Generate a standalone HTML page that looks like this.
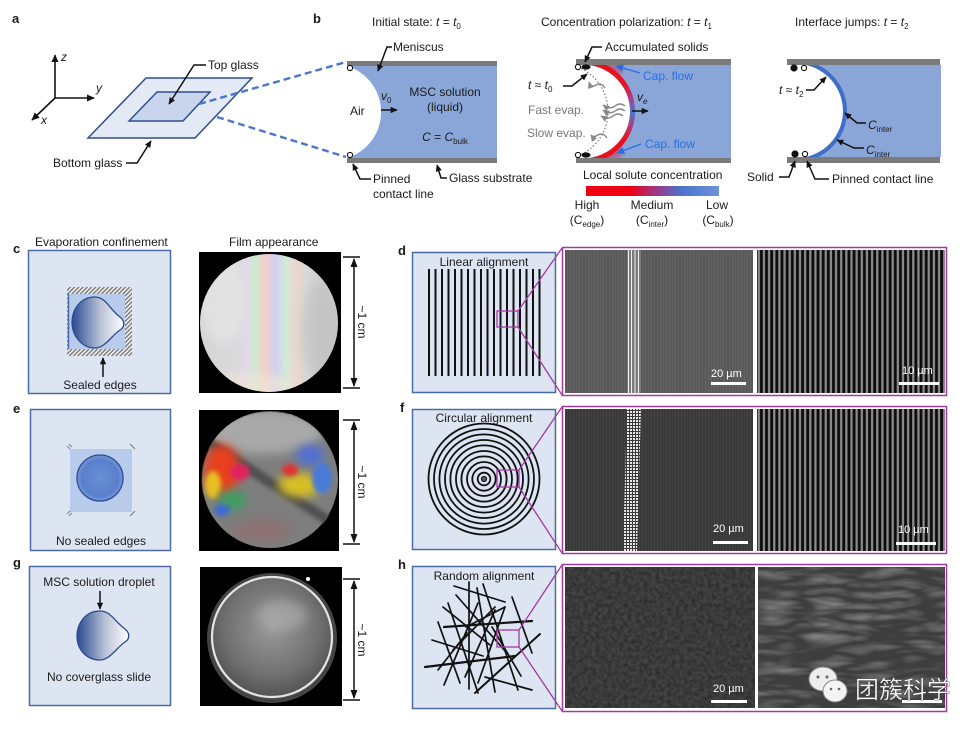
<!DOCTYPE html>
<html><head><meta charset="utf-8"><style>
html,body{margin:0;padding:0;background:#fff;}
svg{display:block;}
text{font-family:"Liberation Sans",Arial,sans-serif;fill:#1a1a1a;}
.l{font-weight:bold;font-size:13px;}
.t{font-size:12px;}
.s{font-size:11px;fill:#fff;}
</style></head><body>
<svg width="980" height="731" viewBox="0 0 980 731" xmlns="http://www.w3.org/2000/svg">
<defs>
<marker id="ah" viewBox="0 0 10 10" refX="9" refY="5" markerWidth="8" markerHeight="8" markerUnits="userSpaceOnUse" orient="auto"><path d="M0,0.5 L10,5 L0,9.5 Z" fill="#111"/></marker>
<marker id="ahb" viewBox="0 0 10 10" refX="9" refY="5" markerWidth="8" markerHeight="8" markerUnits="userSpaceOnUse" orient="auto"><path d="M0,0.5 L10,5 L0,9.5 Z" fill="#2a6fe0"/></marker>
<marker id="ahg" viewBox="0 0 10 10" refX="9" refY="5" markerWidth="7" markerHeight="7" markerUnits="userSpaceOnUse" orient="auto"><path d="M0,0.5 L10,5 L0,9.5 Z" fill="#888"/></marker>
<marker id="ahs" viewBox="0 0 10 10" refX="9" refY="5" markerWidth="7" markerHeight="7" markerUnits="userSpaceOnUse" orient="auto"><path d="M0,0.5 L10,5 L0,9.5 Z" fill="#111"/></marker>
<linearGradient id="cbar" x1="0" x2="1" y1="0" y2="0">
<stop offset="0" stop-color="#f00010"/><stop offset="0.33" stop-color="#f00010"/><stop offset="0.5" stop-color="#a8307a"/><stop offset="0.72" stop-color="#4a74cc"/><stop offset="1" stop-color="#6d93de"/></linearGradient>
<linearGradient id="band" gradientUnits="userSpaceOnUse" x1="0" y1="65" x2="0" y2="158">
<stop offset="0" stop-color="#e8101c"/><stop offset="0.2" stop-color="#e8101c"/><stop offset="0.36" stop-color="#a8408a"/><stop offset="0.5" stop-color="#4a78cf"/><stop offset="0.64" stop-color="#a8408a"/><stop offset="0.8" stop-color="#e8101c"/><stop offset="1" stop-color="#e8101c"/></linearGradient>
<linearGradient id="drop" x1="0" x2="1" y1="0" y2="0"><stop offset="0" stop-color="#2b4a92"/><stop offset="0.55" stop-color="#b9c2d6"/><stop offset="1" stop-color="#ffffff"/></linearGradient>
<radialGradient id="edrop" cx="0.5" cy="0.5" r="0.5"><stop offset="0" stop-color="#6a8fd6"/><stop offset="0.8" stop-color="#5a7fcc"/><stop offset="1" stop-color="#7898d8"/></radialGradient>
<linearGradient id="rain" x1="0" x2="1" y1="0" y2="0">
<stop offset="0" stop-color="#d4d4d4"/><stop offset="0.25" stop-color="#dadada"/><stop offset="0.33" stop-color="#e3d8ea"/><stop offset="0.40" stop-color="#cfe9d0"/><stop offset="0.47" stop-color="#f2cfc9"/><stop offset="0.55" stop-color="#d2d0f2"/><stop offset="0.62" stop-color="#cfead8"/><stop offset="0.69" stop-color="#ecd6cf"/><stop offset="0.78" stop-color="#d8d8d8"/><stop offset="1" stop-color="#c8c8c8"/></linearGradient>
<radialGradient id="gph" cx="0.5" cy="0.42" r="0.55"><stop offset="0" stop-color="#9a9a9a"/><stop offset="0.7" stop-color="#707070"/><stop offset="1" stop-color="#555"/></radialGradient>
<pattern id="hatch" patternUnits="userSpaceOnUse" width="3" height="3" patternTransform="rotate(45)"><rect width="3" height="3" fill="#f2f2f2"/><rect width="1.4" height="3" fill="#777"/></pattern>
<pattern id="stripe" patternUnits="userSpaceOnUse" width="5.15" height="10"><rect width="5.15" height="10" fill="#0c0c0c"/><rect x="0.6" width="2.3" height="10" fill="#8a8a8a"/></pattern>
<pattern id="fine" patternUnits="userSpaceOnUse" width="3" height="10"><rect width="3" height="10" fill="#5a5a5a"/><rect width="1" height="10" fill="#626262"/></pattern>
<pattern id="fine2" patternUnits="userSpaceOnUse" width="3" height="10"><rect width="3" height="10" fill="#3a3a3a"/><rect width="1" height="10" fill="#424242"/></pattern>
<pattern id="dash" patternUnits="userSpaceOnUse" width="3" height="3"><rect width="3" height="3" fill="#3a3a3a"/><rect width="2" height="2" fill="#e8e8e8"/></pattern>
<filter id="bl" x="-50%" y="-50%" width="200%" height="200%"><feGaussianBlur stdDeviation="5"/></filter>
<filter id="bl2" x="-50%" y="-50%" width="200%" height="200%"><feGaussianBlur stdDeviation="2.5"/></filter>
<filter id="noise" x="0" y="0" width="100%" height="100%" color-interpolation-filters="sRGB"><feTurbulence type="fractalNoise" baseFrequency="0.25" numOctaves="2" seed="3"/><feColorMatrix type="matrix" values="0 0 0 0 0.15  0 0 0 0 0.15  0 0 0 0 0.15  0 0 0 -1.8 1.3"/></filter>
<filter id="noise2" x="0" y="0" width="100%" height="100%" color-interpolation-filters="sRGB"><feTurbulence type="turbulence" baseFrequency="0.02 0.09" numOctaves="2" seed="7"/><feColorMatrix type="matrix" values="0 0 0 0 0.62  0 0 0 0 0.62  0 0 0 0 0.62  0 0 0 1.6 -0.25"/></filter>
<clipPath id="cpm"><path clip-rule="evenodd" d="M578,65 H731 V158 H578 Z M578,65 A46.8,46.8 0 1 1 578,158 Z"/></clipPath>
<clipPath id="cpr"><path clip-rule="evenodd" d="M806,65 H941 V157 H806 Z M806,65 A47.1,47.1 0 0 1 806,157 Z"/></clipPath>
<clipPath id="cc"><circle cx="269" cy="323" r="69"/></clipPath>
<clipPath id="ce"><circle cx="270" cy="480" r="69"/></clipPath>
</defs>

<!-- ===== Panel a ===== -->
<text class="l" x="12" y="23">a</text>
<g stroke="#111" stroke-width="1.6" fill="none">
<line x1="55" y1="98" x2="55" y2="55" marker-end="url(#ah)"/>
<line x1="55" y1="98" x2="94" y2="98" marker-end="url(#ah)"/>
<line x1="55" y1="98" x2="32" y2="120" marker-end="url(#ah)"/>
</g>
<text class="t" x="61" y="61" font-style="italic">z</text>
<text class="t" x="96" y="92" font-style="italic">y</text>
<text class="t" x="41" y="124" font-style="italic">x</text>
<polygon points="88,138 146,78 252,78 195,138" fill="#e3e9f5" stroke="#2f4f8f" stroke-width="1.5"/>
<polygon points="129,121 157,92 210,92 183,121" fill="#c9d5ec" stroke="#2f4f8f" stroke-width="1.5"/>
<g stroke="#4a78c8" stroke-width="2.4" stroke-dasharray="7,4" fill="none">
<line x1="199" y1="104" x2="346" y2="62"/>
<line x1="217" y1="117" x2="346" y2="157"/>
</g>
<polyline points="206,65 194,65 169,104" fill="none" stroke="#111" stroke-width="1.5" marker-end="url(#ahs)"/>
<text class="t" x="208" y="69">Top glass</text>
<polyline points="126,163 137,163 151,141" fill="none" stroke="#111" stroke-width="1.5" marker-end="url(#ahs)"/>
<text class="t" x="53" y="167">Bottom glass</text>

<!-- ===== Panel b: initial ===== -->
<text class="l" x="313" y="23">b</text>
<text class="t" x="372" y="26">Initial state: <tspan font-style="italic">t</tspan> = <tspan font-style="italic">t</tspan><tspan font-size="8" dy="3">0</tspan></text>
<path d="M347,66 H497 V158 H347 A48.1,48.1 0 0 0 347,66 Z" fill="#8aa6d9"/>
<rect x="347" y="61" width="150" height="5" fill="#7b7b7b"/>
<rect x="347" y="158" width="150" height="5" fill="#7b7b7b"/>
<circle cx="350" cy="68" r="2.6" fill="#fff" stroke="#111" stroke-width="1.1"/>
<circle cx="350" cy="155" r="2.6" fill="#fff" stroke="#111" stroke-width="1.1"/>
<polyline points="392,47 387,47 378,71" fill="none" stroke="#111" stroke-width="1.5" marker-end="url(#ahs)"/>
<text class="t" x="393" y="51">Meniscus</text>
<text class="t" x="350" y="115">Air</text>
<text class="t" x="381" y="100" font-style="italic">v<tspan font-size="8" dy="3" font-style="normal">0</tspan></text>
<line x1="381" y1="110" x2="397" y2="110" stroke="#111" stroke-width="1.5" marker-end="url(#ahs)"/>
<text class="t" x="445" y="96" text-anchor="middle">MSC solution</text>
<text class="t" x="445" y="111" text-anchor="middle">(liquid)</text>
<text class="t" x="445" y="141" text-anchor="middle"><tspan font-style="italic">C</tspan> = <tspan font-style="italic">C</tspan><tspan font-size="8" dy="3">bulk</tspan></text>
<polyline points="371,179 360,179 353,164" fill="none" stroke="#111" stroke-width="1.5" marker-end="url(#ahs)"/>
<text class="t" x="373" y="183">Pinned</text>
<text class="t" x="373" y="198">contact line</text>
<polyline points="447,178 441,178 437,165" fill="none" stroke="#111" stroke-width="1.5" marker-end="url(#ahs)"/>
<text class="t" x="449" y="182">Glass substrate</text>

<!-- ===== Panel b: polarization ===== -->
<text class="t" x="541" y="26">Concentration polarization:  <tspan font-style="italic">t</tspan> = <tspan font-style="italic">t</tspan><tspan font-size="8" dy="3">1</tspan></text>
<rect x="578" y="65" width="153" height="93" fill="#8aa6d9"/>
<path d="M578,65 A46.8,46.8 0 1 1 578,158 Z" fill="#fff"/>
<g clip-path="url(#cpm)">
<path d="M585,61 Q605,63 622,72" fill="none" stroke="#e8101c" stroke-width="8" opacity="0.45" filter="url(#bl2)"/>
<path d="M585,162 Q605,160 622,151" fill="none" stroke="#e8101c" stroke-width="8" opacity="0.45" filter="url(#bl2)"/>
<path d="M578,65 A46.8,46.8 0 1 1 578,158" fill="none" stroke="url(#band)" stroke-width="10"/>
</g>
<rect x="576" y="59" width="155" height="6" fill="#7b7b7b"/>
<rect x="576" y="158" width="155" height="5" fill="#7b7b7b"/>
<path d="M578,67 A48,48 0 0 1 578,156" fill="none" stroke="#777" stroke-width="1.2" stroke-dasharray="1.5,2"/>
<ellipse cx="586" cy="67" rx="4.5" ry="2.6" fill="#111"/>
<ellipse cx="586" cy="155" rx="4.5" ry="2.6" fill="#111"/>
<circle cx="578" cy="67" r="2.6" fill="#fff" stroke="#111" stroke-width="1.1"/>
<circle cx="578" cy="155" r="2.6" fill="#fff" stroke="#111" stroke-width="1.1"/>
<polyline points="602,47 592,47 585,62" fill="none" stroke="#111" stroke-width="1.5" marker-end="url(#ahs)"/>
<text class="t" x="605" y="51">Accumulated solids</text>
<text class="t" x="528" y="89"><tspan font-style="italic">t</tspan> ≈ <tspan font-style="italic">t</tspan><tspan font-size="8" dy="3">0</tspan></text>
<polyline points="563,86 572,86 587,74" fill="none" stroke="#111" stroke-width="1.5" marker-end="url(#ahs)"/>
<g fill="none" stroke="#888" stroke-width="1.4">
<path d="M605,88 q-4,-6 -9,-3 t-7,-3" marker-end="url(#ahg)"/>
<path d="M625,106 q-5,-4 -10,0 t-12,-1" marker-end="url(#ahg)"/>
<path d="M625,111 q-5,-4 -10,0 t-12,-1" marker-end="url(#ahg)"/>
<path d="M623,116 q-5,-4 -10,0 t-12,0" marker-end="url(#ahg)"/>
<path d="M607,138 q-4,-6 -9,-3 t-7,0" marker-end="url(#ahg)"/>
</g>
<text class="t" x="528" y="114" style="fill:#777">Fast evap.</text>
<text class="t" x="527" y="137" style="fill:#777">Slow evap.</text>
<text class="t" x="637" y="101" font-style="italic">v<tspan font-size="8" dy="3">e</tspan></text>
<line x1="632" y1="111" x2="648" y2="111" stroke="#111" stroke-width="1.5" marker-end="url(#ahs)"/>
<line x1="640" y1="73" x2="616" y2="66" stroke="#2a6fe0" stroke-width="1.4" marker-end="url(#ahb)"/>
<line x1="641" y1="144" x2="617" y2="153" stroke="#2a6fe0" stroke-width="1.4" marker-end="url(#ahb)"/>
<text class="t" x="643" y="80" style="fill:#2a6fe0">Cap. flow</text>
<text class="t" x="645" y="148" style="fill:#2a6fe0">Cap. flow</text>
<text class="t" x="583" y="179">Local solute concentration</text>
<rect x="586" y="186" width="133" height="10" fill="url(#cbar)"/>
<text class="t" x="587" y="209" text-anchor="middle">High</text>
<text class="t" x="587" y="224" text-anchor="middle">(C<tspan font-size="8" dy="3">edge</tspan><tspan dy="-3">)</tspan></text>
<text class="t" x="652" y="209" text-anchor="middle">Medium</text>
<text class="t" x="652" y="224" text-anchor="middle">(C<tspan font-size="8" dy="3">inter</tspan><tspan dy="-3">)</tspan></text>
<text class="t" x="717" y="209" text-anchor="middle">Low</text>
<text class="t" x="718" y="224" text-anchor="middle">(C<tspan font-size="8" dy="3">bulk</tspan><tspan dy="-3">)</tspan></text>

<!-- ===== Panel b: interface jumps ===== -->
<text class="t" x="795" y="26">Interface jumps: <tspan font-style="italic">t</tspan> = <tspan font-style="italic">t</tspan><tspan font-size="8" dy="3">2</tspan></text>
<path d="M806,65 H941 V157 H806 A47.1,47.1 0 0 0 806,65 Z" fill="#8aa6d9"/>
<g clip-path="url(#cpr)"><path d="M806,65 A47.1,47.1 0 0 1 806,157" fill="none" stroke="#3f6fc8" stroke-width="8"/></g>
<rect x="787" y="59" width="153" height="6" fill="#7b7b7b"/>
<rect x="787" y="157" width="153" height="6" fill="#7b7b7b"/>
<circle cx="794" cy="68" r="3.6" fill="#111"/>
<circle cx="804" cy="68" r="2.6" fill="#fff" stroke="#111" stroke-width="1.1"/>
<circle cx="795" cy="154" r="3.6" fill="#111"/>
<circle cx="805" cy="154" r="2.6" fill="#fff" stroke="#111" stroke-width="1.1"/>
<text class="t" x="779" y="94"><tspan font-style="italic">t</tspan> ≈ <tspan font-style="italic">t</tspan><tspan font-size="8" dy="3">2</tspan></text>
<polyline points="806,90 814,90 826,77" fill="none" stroke="#111" stroke-width="1.5" marker-end="url(#ahs)"/>
<polyline points="866,123 857,123 845,113" fill="none" stroke="#111" stroke-width="1.5" marker-end="url(#ahs)"/>
<text class="t" x="868" y="129"><tspan font-style="italic">C</tspan><tspan font-size="8" dy="3">inter</tspan></text>
<polyline points="864,148 854,148 837,140" fill="none" stroke="#111" stroke-width="1.5" marker-end="url(#ahs)"/>
<text class="t" x="866" y="154"><tspan font-style="italic">C</tspan><tspan font-size="8" dy="3">inter</tspan></text>
<polyline points="779,177 789,177 795,161" fill="none" stroke="#111" stroke-width="1.5" marker-end="url(#ahs)"/>
<text class="t" x="747" y="181">Solid</text>
<polyline points="829,179 815,179 807,161" fill="none" stroke="#111" stroke-width="1.5" marker-end="url(#ahs)"/>
<text class="t" x="832" y="183">Pinned contact line</text>

<!-- ===== Column headers ===== -->
<text class="t" x="35" y="246">Evaporation confinement</text>
<text class="t" x="229" y="246">Film appearance</text>

<!-- ===== Panel c ===== -->
<text class="l" x="13" y="253">c</text>
<rect x="28.5" y="250.5" width="142" height="143" fill="#dde5f3" stroke="#4c6aa5" stroke-width="1.5"/>
<rect x="67" y="287" width="65" height="69" fill="url(#hatch)"/>
<rect x="68" y="294" width="57" height="55" fill="#b8cbea"/>
<line x1="68.5" y1="294" x2="68.5" y2="349" stroke="#4c6aa5" stroke-width="1.5"/>
<path d="M95,297 C80,297 72,310 72,322 C72,336 82,348 95,348 C105,348 111,336 120,330 C125,327 125,321 120,317 C110,310 106,297 95,297 Z" fill="url(#drop)" stroke="#2b4a92" stroke-width="1.3"/>
<line x1="103" y1="377" x2="103" y2="358" stroke="#111" stroke-width="1.5" marker-end="url(#ahs)"/>
<text class="t" x="100" y="389" text-anchor="middle">Sealed edges</text>
<rect x="199" y="252" width="142" height="141" fill="#000"/>
<circle cx="269" cy="323" r="69" fill="url(#rain)"/>
<g clip-path="url(#cc)">
<ellipse cx="222" cy="300" rx="22" ry="45" fill="#e8e8e8" opacity="0.6" filter="url(#bl)"/>
<ellipse cx="320" cy="330" rx="18" ry="50" fill="#bdbdbd" opacity="0.6" filter="url(#bl)"/>
<ellipse cx="255" cy="385" rx="40" ry="12" fill="#efe4d6" opacity="0.7" filter="url(#bl)"/>
</g>
<g stroke="#111" stroke-width="1.5">
<line x1="343" y1="257" x2="360" y2="257"/><line x1="343" y1="388" x2="360" y2="388"/>
<line x1="354" y1="259" x2="354" y2="386"/>
</g>
<path d="M354,258 l-3.5,9 h7 Z M354,387 l-3.5,-9 h7 Z" fill="#111"/>
<text class="t" x="362" y="322" transform="rotate(90 362 322)" text-anchor="middle" dy="4">~1 cm</text>

<!-- ===== Panel e ===== -->
<text class="l" x="13" y="413">e</text>
<rect x="30.5" y="409.5" width="140" height="141" fill="#dde5f3" stroke="#4c6aa5" stroke-width="1.5"/>
<rect x="70" y="449" width="62" height="63" fill="#b8cbea"/>
<circle cx="100" cy="478" r="23" fill="url(#edrop)" stroke="#2b4a92" stroke-width="1.3"/>
<g stroke="#777" stroke-width="0.9">
<path d="M67,446 l3,3 M69,444 l3,3"/><path d="M130,444 l3,3 M132,446 l3,3"/>
<path d="M67,514 l3,-3 M69,516 l3,-3"/><path d="M130,516 l3,-3 M132,514 l3,-3"/>
</g>
<text class="t" x="101" y="545" text-anchor="middle">No sealed edges</text>
<rect x="199" y="410" width="140" height="141" fill="#000"/>
<circle cx="270" cy="480" r="68" fill="#7e7e7e"/>
<g clip-path="url(#ce)">
<ellipse cx="262" cy="432" rx="60" ry="22" fill="#a9a9a9" filter="url(#bl)"/>
<path d="M205,440 L335,525" stroke="#4f4f4f" stroke-width="10" filter="url(#bl2)"/>
<ellipse cx="222" cy="470" rx="18" ry="26" fill="#e8401c" filter="url(#bl)"/>
<ellipse cx="213" cy="485" rx="8" ry="14" fill="#e8c020" filter="url(#bl2)"/>
<ellipse cx="240" cy="472" rx="10" ry="8" fill="#e02060" filter="url(#bl2)"/>
<ellipse cx="232" cy="500" rx="14" ry="10" fill="#3aa060" filter="url(#bl)"/>
<ellipse cx="222" cy="510" rx="8" ry="6" fill="#3e6ad0" filter="url(#bl2)"/>
<ellipse cx="300" cy="485" rx="22" ry="12" fill="#d8c020" filter="url(#bl)"/>
<ellipse cx="310" cy="455" rx="14" ry="10" fill="#5070d8" filter="url(#bl)"/>
<ellipse cx="322" cy="478" rx="10" ry="16" fill="#4a7ad8" filter="url(#bl2)"/>
<ellipse cx="290" cy="470" rx="8" ry="6" fill="#e03030" filter="url(#bl2)"/>
<ellipse cx="262" cy="530" rx="30" ry="10" fill="#9a6a6a" opacity="0.6" filter="url(#bl)"/>
<path d="M290,412 Q315,418 325,432" stroke="#e8e8e8" stroke-width="5" fill="none"/>
</g>
<g stroke="#111" stroke-width="1.5">
<line x1="343" y1="420" x2="360" y2="420"/><line x1="343" y1="544" x2="360" y2="544"/>
<line x1="354" y1="422" x2="354" y2="542"/>
</g>
<path d="M354,421 l-3.5,9 h7 Z M354,543 l-3.5,-9 h7 Z" fill="#111"/>
<text class="t" x="362" y="482" transform="rotate(90 362 482)" text-anchor="middle" dy="4">~1 cm</text>

<!-- ===== Panel g ===== -->
<text class="l" x="13" y="567" font-family="Liberation Serif">g</text>
<rect x="29.5" y="566.5" width="141" height="139" fill="#dde5f3" stroke="#4c6aa5" stroke-width="1.5"/>
<text class="t" x="99" y="586" text-anchor="middle">MSC solution droplet</text>
<line x1="100" y1="591" x2="100" y2="609" stroke="#111" stroke-width="1.5" marker-end="url(#ahs)"/>
<path d="M100,611 C85,611 77,624 77,636 C77,650 87,660 100,660 C110,660 116,648 125,642 C130,639 130,633 125,629 C115,622 111,611 100,611 Z" fill="url(#drop)" stroke="#2b4a92" stroke-width="1.3"/>
<text class="t" x="99" y="681" text-anchor="middle">No coverglass slide</text>
<rect x="200" y="567" width="142" height="139" fill="#000"/>
<circle cx="272" cy="638" r="65" fill="#444"/>
<circle cx="272" cy="638" r="61" fill="url(#gph)"/>
<circle cx="272" cy="637" r="60" fill="none" stroke="#e4e4e4" stroke-width="2.2"/>
<ellipse cx="282" cy="615" rx="25" ry="15" fill="#b8b8b8" opacity="0.5" filter="url(#bl)"/>
<circle cx="308" cy="579" r="2" fill="#fff"/>
<g stroke="#111" stroke-width="1.5">
<line x1="343" y1="579" x2="360" y2="579"/><line x1="343" y1="700" x2="360" y2="700"/>
<line x1="354" y1="581" x2="354" y2="698"/>
</g>
<path d="M354,580 l-3.5,9 h7 Z M354,699 l-3.5,-9 h7 Z" fill="#111"/>
<text class="t" x="362" y="640" transform="rotate(90 362 640)" text-anchor="middle" dy="4">~1 cm</text>

<!-- ===== Panel d ===== -->
<text class="l" x="398" y="255">d</text>
<rect x="412.5" y="252.5" width="143" height="140" fill="#dde5f3" stroke="#4c6aa5" stroke-width="1.5"/>
<text class="t" x="484" y="266" text-anchor="middle">Linear alignment</text>
<g stroke="#111" stroke-width="2">
<line x1="429" y1="269" x2="429" y2="376"/><line x1="435.5" y1="269" x2="435.5" y2="376"/><line x1="442" y1="269" x2="442" y2="376"/><line x1="448.5" y1="269" x2="448.5" y2="376"/><line x1="455" y1="269" x2="455" y2="376"/><line x1="461.5" y1="269" x2="461.5" y2="376"/><line x1="468" y1="269" x2="468" y2="376"/><line x1="474.5" y1="269" x2="474.5" y2="376"/><line x1="481" y1="269" x2="481" y2="376"/><line x1="487.5" y1="269" x2="487.5" y2="376"/><line x1="494" y1="269" x2="494" y2="376"/><line x1="500.5" y1="269" x2="500.5" y2="376"/><line x1="507" y1="269" x2="507" y2="376"/><line x1="513.5" y1="269" x2="513.5" y2="376"/><line x1="520" y1="269" x2="520" y2="376"/><line x1="526.5" y1="269" x2="526.5" y2="376"/><line x1="533" y1="269" x2="533" y2="376"/><line x1="539.5" y1="269" x2="539.5" y2="376"/>
</g>
<rect x="562.5" y="247.5" width="384" height="148" fill="#fff" stroke="#a3399f" stroke-width="1.5"/>
<rect x="565" y="250" width="188" height="143" fill="url(#fine)"/>
<rect x="627" y="250" width="14" height="143" fill="#7a7a7a"/>
<g stroke="#f2f2f2" stroke-width="1"><line x1="628.5" y1="250" x2="628.5" y2="393"/><line x1="631.5" y1="250" x2="631.5" y2="393"/><line x1="635" y1="250" x2="635" y2="393"/><line x1="638.5" y1="250" x2="638.5" y2="393"/></g>
<rect x="757" y="250" width="188" height="143" fill="url(#stripe)"/>
<text class="s" x="711" y="377">20 µm</text>
<rect x="711" y="382" width="35" height="3" fill="#fff"/>
<text class="s" x="902" y="374">10 µm</text>
<rect x="899" y="382" width="40" height="3" fill="#fff"/>
<g stroke="#a3399f" stroke-width="1.3" fill="none">
<rect x="497" y="311" width="21" height="16"/>
<line x1="518" y1="311" x2="562" y2="248"/><line x1="518" y1="327" x2="562" y2="395"/>
</g>

<!-- ===== Panel f ===== -->
<text class="l" x="400" y="412">f</text>
<rect x="412.5" y="409.5" width="143" height="140" fill="#dde5f3" stroke="#4c6aa5" stroke-width="1.5"/>
<text class="t" x="484" y="422" text-anchor="middle">Circular alignment</text>
<g stroke="#111" stroke-width="1.8" fill="none">
<circle cx="484" cy="479" r="6.3"/><circle cx="484" cy="479" r="11.7"/><circle cx="484" cy="479" r="17"/><circle cx="484" cy="479" r="22.6"/><circle cx="484" cy="479" r="28"/><circle cx="484" cy="479" r="33.6"/><circle cx="484" cy="479" r="39"/><circle cx="484" cy="479" r="44.6"/><circle cx="484" cy="479" r="50"/><circle cx="484" cy="479" r="55.5"/>
</g>
<circle cx="484" cy="479" r="2.6" fill="#555" stroke="#111" stroke-width="1"/>
<rect x="562.5" y="406.5" width="384" height="147" fill="#fff" stroke="#a3399f" stroke-width="1.5"/>
<rect x="565" y="409" width="188" height="142" fill="url(#fine2)"/>
<path d="M627,409 H641 L637,551 H623 Z" fill="url(#dash)"/>
<rect x="757" y="409" width="188" height="142" fill="url(#stripe)"/>
<text class="s" x="713" y="532">20 µm</text>
<rect x="713" y="541" width="35" height="3" fill="#fff"/>
<text class="s" x="898" y="533">10 µm</text>
<rect x="896" y="542" width="40" height="3" fill="#fff"/>
<g stroke="#a3399f" stroke-width="1.3" fill="none">
<rect x="497" y="470" width="22" height="17"/>
<line x1="519" y1="470" x2="562" y2="407"/><line x1="519" y1="487" x2="562" y2="553"/>
</g>

<!-- ===== Panel h ===== -->
<text class="l" x="398" y="569">h</text>
<rect x="412.5" y="566.5" width="143" height="142" fill="#dde5f3" stroke="#4c6aa5" stroke-width="1.5"/>
<text class="t" x="484" y="580" text-anchor="middle">Random alignment</text>
<g stroke="#111" stroke-width="1.7" stroke-linecap="round">
<line x1="454" y1="586" x2="505" y2="602"/>
<line x1="469" y1="582" x2="469" y2="689"/>
<line x1="448" y1="603" x2="478" y2="693"/>
<line x1="443" y1="607" x2="490" y2="645"/>
<line x1="425" y1="667" x2="515" y2="656" stroke-width="2.3"/>
<line x1="444" y1="627" x2="532" y2="621" stroke-width="2.2"/>
<line x1="432" y1="640" x2="483" y2="656"/>
<line x1="444" y1="685" x2="478" y2="603"/>
<line x1="477" y1="588" x2="495" y2="692"/>
<line x1="483" y1="584" x2="518" y2="690"/>
<line x1="512" y1="597" x2="532" y2="653"/>
<line x1="475" y1="693" x2="540" y2="634" stroke-width="2"/>
<line x1="492" y1="627" x2="521" y2="676"/>
<line x1="485" y1="677" x2="532" y2="690"/>
<line x1="505" y1="607" x2="478" y2="683"/>
<line x1="495" y1="610" x2="465" y2="677"/>
<line x1="453" y1="650" x2="495" y2="607"/>
<line x1="438" y1="670" x2="467" y2="633"/>
<line x1="466" y1="627" x2="505" y2="607"/>
<line x1="438" y1="622" x2="460" y2="683"/>
<line x1="456" y1="595" x2="506" y2="652"/>
</g>
<rect x="562.5" y="564.5" width="384" height="147" fill="#fff" stroke="#a3399f" stroke-width="1.5"/>
<rect x="565" y="567" width="190" height="141" fill="#444"/>
<rect x="565" y="567" width="190" height="141" filter="url(#noise)" opacity="0.8"/>
<rect x="758" y="567" width="187" height="141" fill="#3e3e3e"/>
<rect x="758" y="567" width="187" height="141" filter="url(#noise2)" opacity="0.7"/>
<text class="s" x="713" y="692">20 µm</text>
<rect x="711" y="700" width="36" height="3" fill="#fff"/>
<rect x="902" y="700" width="40" height="3" fill="#fff"/>
<g stroke="#a3399f" stroke-width="1.3" fill="none">
<rect x="497" y="630" width="22" height="17"/>
<line x1="519" y1="630" x2="562" y2="565"/><line x1="519" y1="647" x2="562" y2="711"/>
</g>

<!-- watermark -->
<g>
<ellipse cx="823" cy="679" rx="14" ry="12" fill="#eeeeee" stroke="#888" stroke-width="1"/>
<ellipse cx="835" cy="691" rx="12" ry="11" fill="#f4f4f4" stroke="#888" stroke-width="1"/>
<circle cx="818" cy="677" r="1.5" fill="#666"/><circle cx="827" cy="677" r="1.5" fill="#666"/>
<circle cx="831" cy="689" r="1.3" fill="#666"/><circle cx="839" cy="689" r="1.3" fill="#666"/>
<text x="855" y="698" font-size="24" style="fill:#ffffff;font-family:'Liberation Sans','Noto Sans CJK SC',sans-serif;" stroke="#333" stroke-width="0.3">团簇科学</text>
</g>
</svg>
</body></html>
